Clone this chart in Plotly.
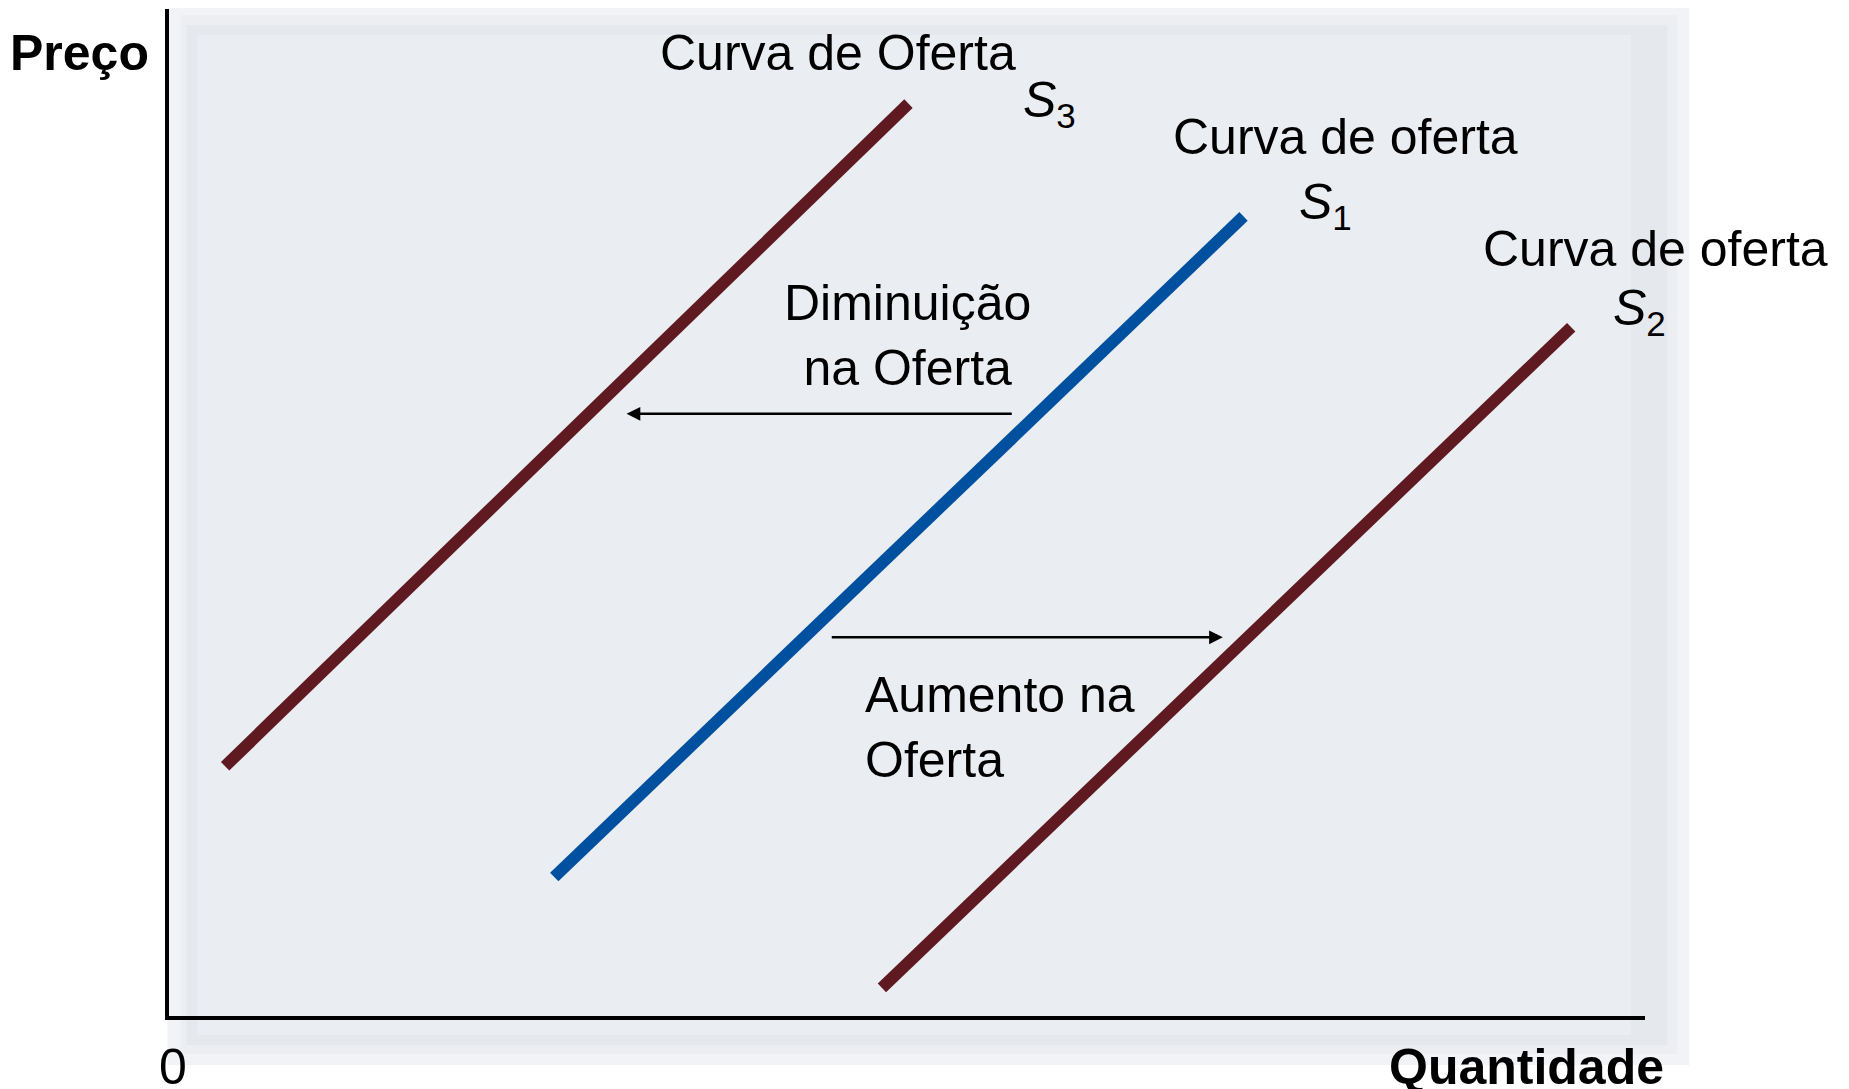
# Deslocamentos da curva de oferta (S1 -> S2 aumento, S1 -> S3 diminuição)
import plotly.graph_objects as go

# Extremos de cada curva (quantidade, preço)
s3_x = [0.38, 5.01]
s3_y = [2.48, 9.06]
s1_x = [2.61, 7.28]
s1_y = [1.38, 7.94]
s2_x = [4.83, 9.50]
s2_y = [0.28, 6.84]

# Setas de deslocamento (início, fim)
diminuicao_x = [5.72, 3.10]
diminuicao_y = [5.98, 5.98]
aumento_x = [4.48, 7.14]
aumento_y = [3.76, 3.76]

vermelho = '#5e1a20'
azul = '#0050a0'
fonte = 'Liberation Sans, Arial, sans-serif'

fig = go.Figure()

for xs, ys, cor in [(s3_x, s3_y, vermelho), (s1_x, s1_y, azul), (s2_x, s2_y, vermelho)]:
    fig.add_trace(go.Scatter(x=xs, y=ys, mode='lines',
                             line=dict(color=cor, width=12),
                             hoverinfo='skip', showlegend=False))

# Setas
anotacoes = []
for xs, ys in [(diminuicao_x, diminuicao_y), (aumento_x, aumento_y)]:
    anotacoes.append(dict(
        x=xs[1], y=ys[1], ax=xs[0], ay=ys[0],
        xref='x', yref='y', axref='x', ayref='y',
        text='', showarrow=True, arrowhead=2, arrowsize=1.1,
        arrowwidth=2.5, arrowcolor='black'))

# Textos (posições em coordenadas do papel, eixo 0-10 -> 0-1)
def texto(t, x, y, xanchor='center', align='center', bold=False):
    if bold:
        t = '<b>' + t + '</b>'
    return dict(text=t, x=x / 10, y=y / 10, xref='paper', yref='paper', showarrow=False,
                xanchor=xanchor, yanchor='middle', align=align,
                font=dict(family=fonte, size=50, color='black'))

anotacoes += [
    texto('Curva de Oferta', 4.53, 9.56),
    texto('<i>S</i><sub>3</sub>', 5.77, 9.06, xanchor='left'),
    texto('Curva de oferta', 7.97, 8.73),
    texto('<i>S</i><sub>1</sub>', 7.64, 8.05, xanchor='left'),
    texto('Curva de oferta', 10.07, 7.62),
    texto('<i>S</i><sub>2</sub>', 9.77, 7.0, xanchor='left'),
    texto('Diminuição<br>na Oferta', 5.00, 6.76),
    texto('Aumento na<br>Oferta', 4.70, 2.86, xanchor='left', align='left'),
    texto('Preço', -0.603, 9.56, bold=True),
    texto('0', 0.03, -0.51),
    texto('Quantidade', 9.20, -0.51, bold=True),
]

# Painel de fundo com borda esmaecida
def ret(x0, x1, y0, y1, cor):
    return dict(type='rect', xref='paper', yref='paper', layer='below',
                x0=x0, x1=x1, y0=y0, y1=y1, fillcolor=cor, line=dict(width=0))

fig.update_layout(
    width=1849, height=1089,
    margin=dict(l=161, r=212, t=1, b=81),
    paper_bgcolor='white', plot_bgcolor='rgba(0,0,0,0)',
    annotations=anotacoes,
    shapes=[
        ret(-0.001, 1.030, -0.0487, 1.004, '#f1f3f6'),
        ret(0.008, 1.022, -0.0378, 0.994, '#eceef2'),
        ret(0.012, 1.015, -0.0288, 0.984, '#e5e8ed'),
        ret(0.019, 0.9905, -0.0189, 0.9742, '#eaedf2'),
    ],
    xaxis=dict(range=[0, 10], showline=True, linecolor='black', linewidth=4,
               showgrid=False, zeroline=False, showticklabels=False, ticks='',
               fixedrange=True),
    yaxis=dict(range=[0, 10], showline=True, linecolor='black', linewidth=4,
               showgrid=False, zeroline=False, showticklabels=False, ticks='',
               fixedrange=True),
)

fig.write_html('out.html')
